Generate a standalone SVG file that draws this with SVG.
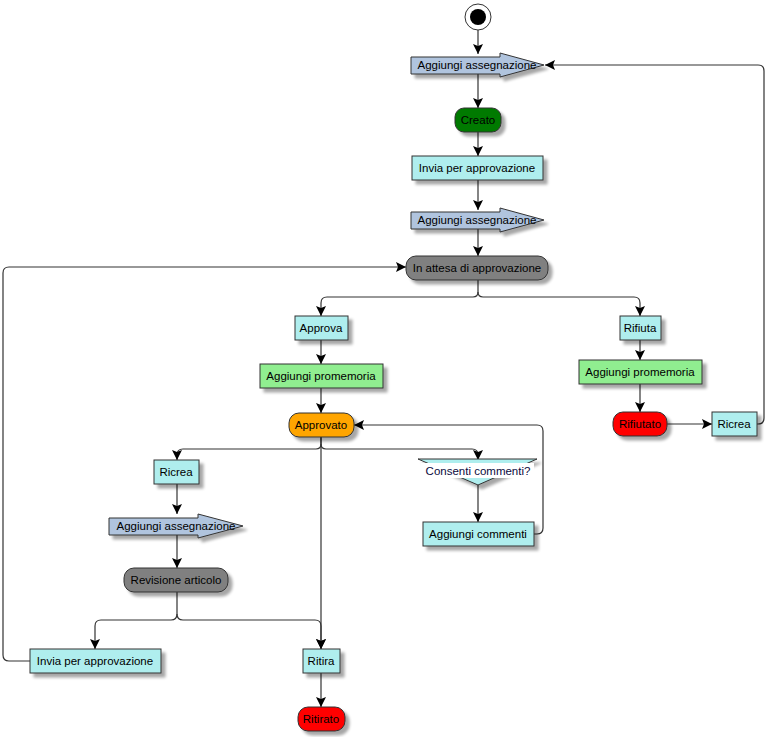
<svg xmlns="http://www.w3.org/2000/svg" width="767" height="737" viewBox="0 0 767 737">
<style>
  .lbl{font-family:"Liberation Sans",Arial,sans-serif;font-size:11.5px;fill:#000;text-anchor:middle}
  .box{stroke:#333;stroke-width:1;filter:url(#sh)}
  .act{fill:#AFEEEE}
  .rem{fill:#90EE90}
  .asg{fill:#B0C4DE}
  .c{fill:none;stroke:#333;stroke-width:1.2}
</style>
<defs>
  <filter id="sh" x="-20%" y="-30%" width="150%" height="180%">
    <feGaussianBlur in="SourceAlpha" stdDeviation="1.5"/>
    <feOffset dx="4" dy="4" result="b"/>
    <feComponentTransfer><feFuncA type="linear" slope="0.35"/></feComponentTransfer>
    <feMerge><feMergeNode/><feMergeNode in="SourceGraphic"/></feMerge>
  </filter>
  <marker id="ah" viewBox="0 0 10 10" refX="10" refY="5" markerWidth="10" markerHeight="10" markerUnits="userSpaceOnUse" orient="auto">
    <path d="M0,0 L10,5 L0,10 L2,5 Z" fill="#000"/>
  </marker>
</defs>

<g id="connectors">
  <path class="c" d="M478,30 V54" marker-end="url(#ah)"/>
  <path class="c" d="M478,74 V108" marker-end="url(#ah)"/>
  <path class="c" d="M478,132 V156" marker-end="url(#ah)"/>
  <path class="c" d="M478,180 V210" marker-end="url(#ah)"/>
  <path class="c" d="M478,229 V256" marker-end="url(#ah)"/>
  <path class="c" d="M478,280 V292 Q478,297 473,297 H327 Q321,297 321,303 V316" marker-end="url(#ah)"/>
  <path class="c" d="M478,292 Q478,297 483,297 H634 Q640,297 640,303 V316" marker-end="url(#ah)"/>
  <path class="c" d="M321,340 V364" marker-end="url(#ah)"/>
  <path class="c" d="M321,388 V413" marker-end="url(#ah)"/>
  <path class="c" d="M321,437 V444 Q321,449 316,449 H183 Q177,449 177,455 V460" marker-end="url(#ah)"/>
  <path class="c" d="M321,444 Q321,449 326,449 H472 Q478,449 478,455 V460" marker-end="url(#ah)"/>
  <path class="c" d="M321,437 V649" marker-end="url(#ah)"/>
  <path class="c" d="M640,340 V360" marker-end="url(#ah)"/>
  <path class="c" d="M640,384 V412" marker-end="url(#ah)"/>
  <path class="c" d="M667,424 H712" marker-end="url(#ah)"/>
  <path class="c" d="M757,424 H758 Q764,424 764,418 V71 Q764,65 758,65 H545" marker-end="url(#ah)"/>
  <path class="c" d="M177,484 V514" marker-end="url(#ah)"/>
  <path class="c" d="M177,535 V568" marker-end="url(#ah)"/>
  <path class="c" d="M177,592 V614 Q177,620 171,620 H101 Q95,620 95,626 V649" marker-end="url(#ah)"/>
  <path class="c" d="M177,614 Q177,620 183,620 H315 Q321,620 321,626 V649" marker-end="url(#ah)"/>
  <path class="c" d="M30,661 H9 Q3,661 3,655 V273 Q3,267 9,267 H406" marker-end="url(#ah)"/>
  <path class="c" d="M321,673 V707" marker-end="url(#ah)"/>
  <path class="c" d="M478,485 V522" marker-end="url(#ah)"/>
  <path class="c" d="M534,534 H537 Q543,534 543,528 V431 Q543,425 537,425 H354" marker-end="url(#ah)"/>
</g>

<g id="start">
  <circle cx="478" cy="17" r="13" fill="#fff" stroke="#333" stroke-width="1"/>
  <circle cx="478" cy="17" r="8" fill="#000"/>
</g>

<g id="assegnazione1">
  <polygon class="box asg" points="411,57 500,57 500,53 544,65 500,77 500,74 411,74"/>
  <text class="lbl" x="477" y="69">Aggiungi assegnazione</text>
</g>

<g id="creato">
  <rect class="box" x="455" y="108" width="46" height="24" rx="9" fill="#007A00"/>
  <text class="lbl" x="478" y="124">Creato</text>
</g>

<g id="invia1">
  <rect class="box act" x="412" y="156" width="131" height="24"/>
  <text class="lbl" x="477" y="172">Invia per approvazione</text>
</g>

<g id="assegnazione2">
  <polygon class="box asg" points="411,212 500,212 500,208 544,220 500,232 500,229 411,229"/>
  <text class="lbl" x="477" y="224">Aggiungi assegnazione</text>
</g>

<g id="attesa">
  <rect class="box" x="406" y="256" width="142" height="24" rx="10" fill="#808080"/>
  <text class="lbl" x="477" y="272">In attesa di approvazione</text>
</g>

<g id="approva">
  <rect class="box act" x="295" y="316" width="53" height="24"/>
  <text class="lbl" x="321" y="332">Approva</text>
</g>

<g id="promemoria1">
  <rect class="box rem" x="260" y="364" width="123" height="24"/>
  <text class="lbl" x="321" y="380">Aggiungi promemoria</text>
</g>

<g id="approvato">
  <rect class="box" x="289" y="413" width="65" height="24" rx="10" fill="#FFA500"/>
  <text class="lbl" x="321" y="429">Approvato</text>
</g>

<g id="rifiuta">
  <rect class="box act" x="620" y="316" width="41" height="24"/>
  <text class="lbl" x="640" y="332">Rifiuta</text>
</g>

<g id="promemoria2">
  <rect class="box rem" x="579" y="360" width="123" height="24"/>
  <text class="lbl" x="640" y="376">Aggiungi promemoria</text>
</g>

<g id="rifiutato">
  <rect class="box" x="613" y="412" width="54" height="24" rx="10" fill="#FF0000"/>
  <text class="lbl" x="640" y="428">Rifiutato</text>
</g>

<g id="ricrea2">
  <rect class="box act" x="712" y="412" width="45" height="24"/>
  <text class="lbl" x="734" y="428">Ricrea</text>
</g>

<g id="ricrea1">
  <rect class="box act" x="154" y="460" width="45" height="24"/>
  <text class="lbl" x="176" y="476">Ricrea</text>
</g>

<g id="assegnazione3">
  <polygon class="box asg" points="109,518 198,518 198,514 243,526 198,538 198,535 109,535"/>
  <text class="lbl" x="176" y="530">Aggiungi assegnazione</text>
</g>

<g id="revisione">
  <rect class="box" x="124" y="568" width="104" height="24" rx="10" fill="#808080"/>
  <text class="lbl" x="176" y="584">Revisione articolo</text>
</g>

<g id="consenti">
  <polygon class="box act" points="418,459 537,459 478,485"/>
  <rect x="421" y="463" width="113" height="15" fill="#fff"/>
  <text class="lbl" x="478" y="475" style="fill:#0a0a40">Consenti commenti?</text>
</g>

<g id="commenti">
  <rect class="box act" x="423" y="522" width="111" height="24"/>
  <text class="lbl" x="478" y="538">Aggiungi commenti</text>
</g>

<g id="invia2">
  <rect class="box act" x="30" y="649" width="131" height="24"/>
  <text class="lbl" x="95" y="665">Invia per approvazione</text>
</g>

<g id="ritira">
  <rect class="box act" x="303" y="649" width="37" height="24"/>
  <text class="lbl" x="321" y="665">Ritira</text>
</g>

<g id="ritirato">
  <rect class="box" x="298" y="707" width="47" height="24" rx="10" fill="#FF0000"/>
  <text class="lbl" x="321" y="723">Ritirato</text>
</g>
</svg>
